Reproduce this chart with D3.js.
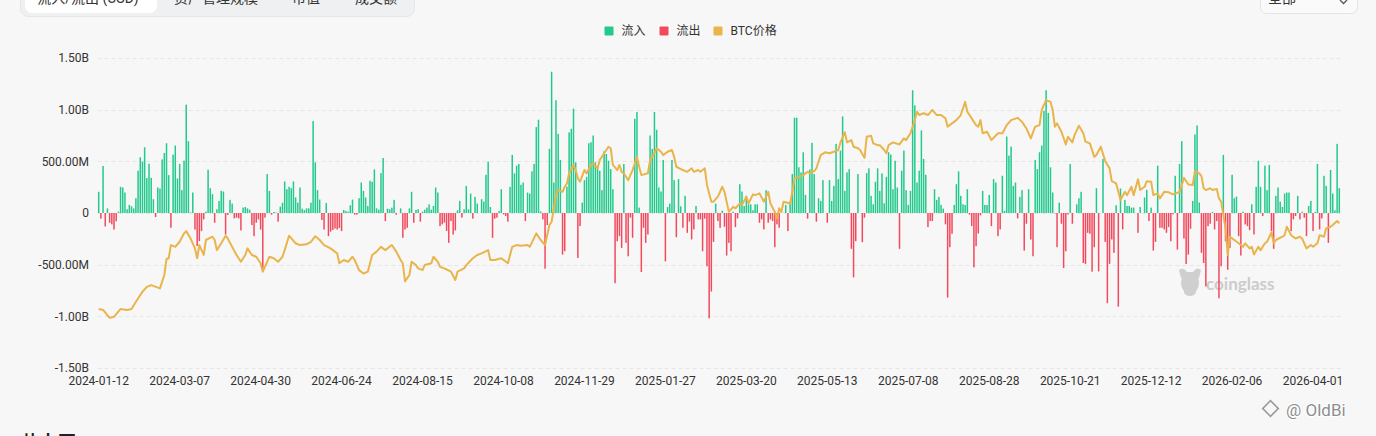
<!DOCTYPE html>
<html><head><meta charset="utf-8">
<script src="https://cdn.jsdelivr.net/npm/d3@7/dist/d3.min.js"></script>
<style>html,body{margin:0;padding:0;background:#f7f7f7;}svg{display:block;font-family:Roboto,"Noto Sans CJK SC",sans-serif;}</style>
</head><body><svg id="chart" width="1376" height="436"></svg>
<script>
// Daily net flow, millions USD (positive = 流入, negative = 流出)
const netFlowM = [
205,-55,455,-130,45,-95,-110,-160,-80,13,
253,247,198,36,78,65,45,143,409,539,
497,636,338,477,341,133,-39,247,237,519,
581,675,367,-143,565,653,334,474,221,506,
1049,695,5,198,-160,-320,-272,-175,-62,13,
419,240,182,-94,36,117,214,208,-208,-19,
127,91,-52,-45,-52,-169,52,58,45,32,
-117,-224,-94,-62,-160,-565,-45,377,214,-16,
10,5,-84,62,100,305,230,253,240,305,
150,100,247,42,29,45,45,100,890,490,
221,130,-68,-160,97,-224,-180,-165,-150,-160,
-145,-175,29,20,13,75,130,-16,-16,143,
295,214,150,68,312,302,422,45,32,386,
532,-78,42,36,52,127,-16,0,45,-240,
-160,-143,45,205,-94,29,36,-84,13,32,
52,84,32,68,247,198,-127,-110,-94,-175,
-289,-78,-208,-169,26,117,-45,36,263,36,
188,-55,156,91,0,133,110,370,497,58,
-240,-55,-45,20,230,-13,-29,-84,253,562,
383,458,474,273,295,-78,198,188,403,474,
831,903,15,-62,-539,-117,620,1367,295,1091,
766,513,-403,-370,255,780,815,1010,490,-435,
-127,100,318,350,675,685,750,490,442,409,
221,597,571,506,425,230,-679,-273,-224,-338,
474,-289,-419,-45,-240,912,977,52,-571,-143,
-289,-208,750,620,977,805,247,208,513,-468,
58,91,513,318,-234,328,65,-143,166,-192,
-84,-256,-159,68,-62,-62,-370,-55,-516,-1019,
-760,-279,91,-78,-143,22,-133,-412,-289,-370,
13,-136,-52,279,208,68,166,84,84,26,
84,84,-94,-62,-159,221,-94,-62,-78,-331,
-110,-143,2,2,78,-175,100,377,922,922,
442,393,588,175,-55,422,679,377,-84,143,
117,318,0,-94,318,117,263,669,328,604,
935,214,393,425,-347,-623,-273,377,0,-282,
-45,386,432,166,84,302,432,214,383,94,
350,588,565,230,506,247,-347,409,604,221,
78,214,1188,1042,295,409,799,523,370,-136,
-78,-78,230,127,156,78,42,-110,-818,-331,
-201,78,279,403,166,84,78,230,-16,-127,
-526,-321,-198,-23,214,78,78,175,-127,328,
295,-224,-159,360,20,740,555,643,263,295,
-52,156,221,-364,-104,230,-256,-419,513,425,
588,653,987,1188,968,442,198,-5,-331,100,
-104,-532,-370,-15,474,-104,0,84,143,205,
-484,-493,-192,-201,-568,-331,240,-565,0,523,
-279,-873,-492,-256,-386,75,-906,237,-159,127,
68,68,52,52,0,-192,58,0,150,224,
-78,52,-364,-279,458,-143,-143,-159,-192,-136,
-273,-13,360,-354,474,695,-247,-494,-403,-153,
117,760,847,101,-386,-484,-711,-127,-104,10,
-159,-78,-825,-516,562,-273,-549,-338,370,143,
159,-224,-412,13,-110,-127,-166,84,-208,253,
506,253,-29,458,221,464,-175,-347,166,247,
110,58,188,198,198,-175,-62,-29,166,-62,
13,-45,-224,68,117,-175,10,474,-159,-52,
360,263,-289,416,188,26,669,240
];

// BTC price (thousand USD) at [bar index, price]
const btcPrice = [[0,43.6],[2,43.2],[5,40.1],[7,40.5],[10,43.6],[13,43.2],[15,43.6],[17,46.4],[20,50.4],[22,52.3],[24,53.0],[28,51.7],[30,57.0],[31,63.3],[32,63.6],[33,68.8],[35,68.1],[37,70.1],[39,73.4],[40,74.3],[42,71.4],[44,67.5],[45,63.6],[46,68.8],[48,64.9],[49,70.8],[52,72.1],[53,70.8],[54,66.8],[56,69.5],[58,72.5],[59,71.4],[61,68.1],[63,64.9],[65,62.2],[67,64.9],[68,67.5],[70,64.9],[72,64.2],[74,61.6],[75,58.3],[77,62.2],[78,64.2],[80,63.6],[82,62.2],[84,64.2],[85,66.8],[87,72.5],[90,69.5],[92,68.8],[95,69.1],[97,70.1],[99,72.3],[101,70.8],[103,68.8],[106,67.5],[109,65.5],[110,61.6],[112,62.9],[114,62.2],[116,64.2],[117,62.9],[119,58.9],[121,57.6],[123,58.3],[125,64.9],[127,66.2],[129,68.1],[131,66.8],[134,68.8],[136,66.2],[138,62.9],[139,61.5],[140,54.5],[142,57.0],[143,62.2],[145,60.9],[146,59.6],[148,58.9],[149,60.9],[152,61.6],[153,64.2],[155,62.2],[156,60.2],[158,59.6],[161,58.3],[163,55.0],[164,58.3],[167,59.6],[168,60.9],[171,63.6],[173,64.9],[175,65.5],[178,66.8],[179,62.9],[181,62.9],[184,63.6],[187,61.6],[189,68.1],[191,68.8],[193,68.5],[196,68.8],[197,68.1],[200,73.4],[202,70.8],[204,68.8],[206,76.7],[207,78.0],[209,88.5],[210,90.5],[212,89.8],[213,91.8],[214,93.1],[215,97.1],[217,100.4],[218,98.4],[219,95.1],[220,93.8],[222,98.4],[223,97.1],[225,100.4],[226,101.0],[228,99.1],[229,102.3],[231,105.0],[233,107.6],[234,107.0],[235,100.4],[237,98.4],[238,100.4],[239,97.7],[240,97.1],[242,94.4],[244,98.4],[246,103.6],[247,99.7],[248,96.4],[251,97.1],[252,102.3],[254,105.0],[255,107.0],[257,105.6],[258,104.3],[260,105.6],[262,106.3],[263,103.6],[264,99.7],[267,98.4],[269,97.7],[271,99.1],[272,97.7],[274,98.4],[275,97.7],[277,99.1],[278,92.5],[280,85.9],[281,85.9],[283,87.9],[285,91.8],[286,89.8],[288,81.9],[290,83.9],[291,83.3],[293,85.2],[294,84.6],[296,87.9],[297,85.2],[299,88.8],[300,88.5],[302,89.2],[304,85.9],[306,89.8],[307,85.2],[309,81.9],[310,79.3],[311,83.3],[312,81.9],[313,85.9],[316,85.2],[317,89.8],[318,95.1],[320,95.7],[322,96.4],[324,97.7],[325,97.1],[327,98.0],[328,99.1],[330,104.3],[332,105.4],[334,105.0],[336,105.6],[338,106.3],[339,109.3],[341,113.3],[342,109.3],[344,110.2],[345,107.6],[347,107.0],[348,106.3],[350,103.2],[351,111.5],[353,111.9],[354,108.9],[356,108.2],[357,108.2],[359,106.3],[360,105.0],[361,108.2],[363,109.3],[366,108.5],[368,110.9],[369,110.2],[371,112.9],[373,118.1],[374,121.4],[375,120.1],[377,120.8],[379,120.1],[381,122.1],[383,120.1],[385,120.1],[387,118.8],[388,115.5],[390,116.8],[392,118.1],[394,120.1],[395,122.7],[396,125.3],[397,121.4],[399,118.8],[401,116.1],[402,115.5],[403,118.1],[404,112.9],[406,113.5],[408,110.2],[411,112.9],[413,112.9],[415,116.1],[417,118.1],[420,119.0],[422,117.4],[424,114.8],[426,110.9],[428,115.5],[430,116.1],[431,122.1],[433,126.0],[435,125.3],[436,122.1],[437,115.5],[438,116.8],[440,113.5],[442,108.5],[443,111.5],[445,109.3],[446,112.2],[448,115.9],[450,112.9],[451,109.6],[453,108.9],[455,103.6],[456,104.3],[458,107.6],[460,101.9],[462,99.1],[463,94.0],[465,93.1],[467,86.6],[469,89.8],[470,88.5],[472,91.8],[473,88.5],[475,94.8],[476,90.5],[478,91.8],[479,94.0],[481,93.8],[482,88.5],[484,89.2],[485,87.2],[487,89.8],[489,89.6],[491,88.8],[494,89.8],[496,95.3],[498,92.7],[500,92.5],[501,98.0],[503,97.1],[504,96.0],[505,91.2],[506,90.5],[508,91.2],[509,90.5],[511,90.9],[512,87.2],[513,85.9],[514,80.6],[515,75.4],[516,64.9],[517,72.1],[519,70.8],[521,69.5],[523,68.1],[524,69.5],[526,67.5],[527,68.1],[528,65.1],[530,68.1],[531,66.8],[533,69.5],[534,70.1],[536,73.8],[537,69.5],[538,70.8],[541,72.1],[542,72.7],[543,76.0],[545,72.7],[547,71.4],[549,72.1],[550,71.4],[552,67.5],[554,68.8],[555,68.1],[557,69.5],[558,72.7],[560,72.1],[561,75.4],[563,76.0],[564,76.7],[566,78.3],[567,77.4]];

const tickLabels = ["2024-01-12","2024-03-07","2024-04-30","2024-06-24","2024-08-15","2024-10-08","2024-11-29","2025-01-27","2025-03-20","2025-05-13","2025-07-08","2025-08-28","2025-10-21","2025-12-12","2026-02-06","2026-04-01"];
const tickInterval = 37;
const yTickValues = [1500,1000,500,0,-500,-1000,-1500];
const legendNames = ["流入","流出","BTC价格"];
const legendColors = ["#22c98c","#f2495d","#e9b44c"];
const tabNames = ["流入/流出 (USD)","资产管理规模","市值","成交额"];

const svg = d3.select("#chart");
const W = 1376, H = 436;
const plot = {left: 97.6, right: 1340.4, top: 58, bottom: 368};
const green = legendColors[0], red = legendColors[1], gold = legendColors[2];

svg.append("rect").attr("width", W).attr("height", H).attr("fill", "#f7f7f7");

// top tab bar
svg.append("rect").attr("x", 20.5).attr("y", -20).attr("width", 394).attr("height", 36.5)
  .attr("rx", 8).attr("fill", "#eef0f2").attr("stroke", "#e4e6e9");
svg.append("rect").attr("x", 25).attr("y", -20).attr("width", 132).attr("height", 33)
  .attr("rx", 7).attr("fill", "#ffffff");
const tabX = [88, 216, 306, 376];
tabNames.forEach((t, i) => {
  svg.append("text").attr("x", tabX[i]).attr("y", 3).attr("text-anchor", "middle")
    .attr("font-size", 14).attr("fill", "#333").text(t);
});
// dropdown
svg.append("rect").attr("x", 1260.5).attr("y", -20).attr("width", 97).attr("height", 33.5)
  .attr("rx", 6).attr("fill", "#fafafa").attr("stroke", "#e2e4e7");
svg.append("text").attr("x", 1268).attr("y", 3).attr("font-size", 14).attr("fill", "#333").text("全部");
svg.append("path").attr("d", "M1340,0 L1343.5,3.5 L1347,0").attr("fill", "none").attr("stroke", "#555").attr("stroke-width", 1.3);

// scales
const xBand = d3.scaleBand().domain(d3.range(netFlowM.length))
  .range([plot.left, plot.right]).paddingInner(0.32).paddingOuter(0.16);
const xc = i => xBand(i) + xBand.bandwidth() / 2;
const y = d3.scaleLinear().domain([-1500, 1500]).range([plot.bottom, plot.top]);
const yPrice = d3.scaleLinear().domain([20.3, 142.6]).range([plot.bottom, plot.top]);

// grid
svg.append("g").selectAll("line").data(yTickValues).join("line")
  .attr("x1", plot.left).attr("x2", plot.right)
  .attr("y1", d => Math.round(y(d)) + 0.5).attr("y2", d => Math.round(y(d)) + 0.5)
  .attr("stroke", "#e6e6e6").attr("stroke-dasharray", "4,3");

// y axis labels
const fmt = v => v === 0 ? "0" : (Math.abs(v) >= 1000 ? (v / 1000).toFixed(2) + "B" : v.toFixed(2) + "M");
svg.append("g").selectAll("text").data(yTickValues).join("text")
  .attr("x", 89).attr("y", d => y(d)).attr("dy", "0.35em").attr("text-anchor", "end")
  .attr("font-size", 12).attr("fill", "#333").text(fmt);

// x axis labels
svg.append("g").selectAll("text").data(tickLabels).join("text")
  .attr("x", (d, k) => xc(k * tickInterval)).attr("y", 381).attr("dy", "0.35em")
  .attr("text-anchor", "middle").attr("font-size", 12).attr("fill", "#333").text(d => d);

// watermark coinglass
const wm = svg.append("g").attr("fill", "#cfcfcf");
wm.append("ellipse").attr("cx", 1190).attr("cy", 283).attr("rx", 9).attr("ry", 11);
wm.append("path").attr("d", "M1179,270 Q1183,266 1187,272 L1193,272 Q1197,266 1201,270 L1199,278 L1181,278 Z");
wm.append("ellipse").attr("cx", 1190).attr("cy", 292).attr("rx", 6).attr("ry", 4);
svg.append("text").attr("x", 1206).attr("y", 290).attr("font-size", 17).attr("font-weight", 700)
  .attr("fill", "#cccccc").attr("font-family", "Lato, 'Open Sans', sans-serif").text("coinglass");

// bars
const inflow = netFlowM.map((v, i) => ({i, v})).filter(d => d.v > 0);
const outflow = netFlowM.map((v, i) => ({i, v})).filter(d => d.v < 0);
svg.append("g").selectAll("rect").data(inflow).join("rect")
  .attr("x", d => xBand(d.i)).attr("width", xBand.bandwidth())
  .attr("y", d => y(d.v)).attr("height", d => y(0) - y(d.v)).attr("fill", green);
svg.append("g").selectAll("rect").data(outflow).join("rect")
  .attr("x", d => xBand(d.i)).attr("width", xBand.bandwidth())
  .attr("y", y(0)).attr("height", d => y(d.v) - y(0)).attr("fill", red);

// price line
const line = d3.line().x(d => xc(d[0])).y(d => yPrice(d[1]));
svg.append("path").datum(btcPrice).attr("d", line).attr("fill", "none")
  .attr("stroke", gold).attr("stroke-width", 2).attr("stroke-linejoin", "round");

// legend
const legX = [604.5, 659.5, 713.5];
legendNames.forEach((n, k) => {
  svg.append("rect").attr("x", legX[k]).attr("y", 26.5).attr("width", 9).attr("height", 9)
    .attr("rx", 1).attr("fill", legendColors[k]);
  svg.append("text").attr("x", legX[k] + 17).attr("y", 31).attr("dy", "0.35em")
    .attr("font-size", 12).attr("fill", "#333").text(n);
});

// bottom-left heading (cut off)
svg.append("text").attr("x", 22).attr("y", 449).attr("font-size", 18).attr("font-weight", 700)
  .attr("fill", "#222").text("热力图");

// OldBi watermark
const ob = svg.append("g");
ob.append("rect").attr("x", 1265).attr("y", 403).attr("width", 11).attr("height", 11)
  .attr("transform", "rotate(45 1270.5 408.5)").attr("fill", "none").attr("stroke", "#9a9a9a").attr("stroke-width", 1.6);
ob.append("text").attr("x", 1286).attr("y", 416).attr("font-size", 17)
  .attr("fill", "#8e8e8e").attr("stroke", "#ffffff").attr("stroke-width", 2).attr("paint-order", "stroke")
  .text("@ OldBi");
</script>
</body></html>
